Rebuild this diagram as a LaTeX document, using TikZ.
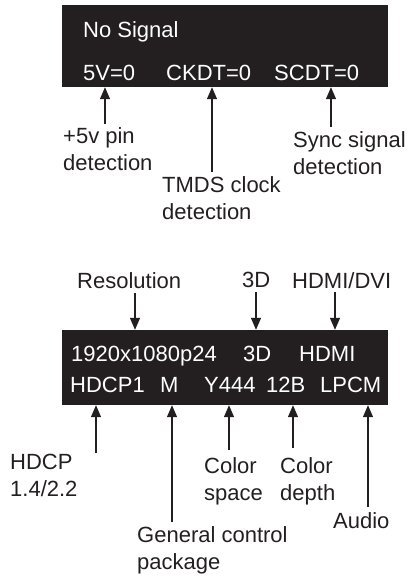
\documentclass[tikz,border=0pt]{standalone}
\usepackage{fontspec}
\setmainfont{Liberation Sans}
\usetikzlibrary{arrows.meta,positioning,calc}

\definecolor{panelblack}{HTML}{231F20}

\tikzset{
  panel/.style={fill=panelblack, draw=none, minimum width=326pt, inner sep=0pt},
  intext/.style={text=white, anchor=base west, inner sep=0pt, font=\fontsize{22}{27}\selectfont},
  lbl/.style={text=panelblack, anchor=north west, align=left, inner sep=0pt, font=\fontsize{22}{27}\selectfont},
  pointer/.style={-{Triangle[length=12pt,width=10pt]}, line width=1.3pt, draw=panelblack}
}

\begin{document}
\begin{tikzpicture}[x=1pt,y=-1pt]
\useasboundingbox (0,0) rectangle (409,576);
%Top panel
\node[panel, minimum height=82pt] (nosig) at (225,46) {};
\node[intext] (ns) at (83,37) {No Signal};
\node[intext] (v5) at (83,80) {5V=0};
\node[intext] (ckdt) at (166,80) {CKDT=0};
\node[intext] (scdt) at (274,80) {SCDT=0};

\node[lbl] (l5v) at (63,127) {+5v pin\\detection};
\node[lbl] (lclk) at (162,176) {TMDS clock\\detection};
\node[lbl] (lsync) at (293,131) {Sync signal\\detection};

\draw[pointer] ([yshift=3pt]105,0 |- l5v.north) -- (105,0 |- nosig.south);
\draw[pointer] ([yshift=4pt]212,0 |- lclk.north) -- (212,0 |- nosig.south);
\draw[pointer] ([yshift=4pt]331,0 |- lsync.north) -- (331,0 |- nosig.south);

%Bottom panel
\node[panel, minimum height=75pt] (info) at (225,367.5) {};
\node[intext] (res) at (71,361) {1920x1080p24};
\node[intext] (td) at (243,361) {3D};
\node[intext] (hdmi) at (299,361) {HDMI};
\node[intext] (hdcp) at (70,392) {HDCP1};
\node[intext] (gcp) at (160,392) {M};
\node[intext] (ycc) at (204,392) {Y444};
\node[intext] (bits) at (266,392) {12B};
\node[intext] (lpcm) at (320,392) {LPCM};

\node[lbl] (lres) at (77,272) {Resolution};
\node[lbl] (l3d) at (242,272) {3D};
\node[lbl] (lmode) at (292,272) {HDMI/DVI};

\draw[pointer] ([yshift=-4pt]135,0 |- lres.south) -- (135,0 |- info.north);
\draw[pointer] ([yshift=-4pt]256,0 |- l3d.south) -- (256,0 |- info.north);
\draw[pointer] ([yshift=-4pt]335,0 |- l3d.south) -- (335,-1 |- info.north);

\node[lbl] (lhdcp) at (10,454) {HDCP\\1.4/2.2};
\node[lbl] (lgcp) at (137,526) {General control\\package};
\node[lbl] (lspace) at (204,457) {Color\\space};
\node[lbl] (ldepth) at (280,457) {Color\\depth};
\node[lbl] (laudio) at (333,512) {Audio};

\draw[pointer] (96,453) -- (96,0 |- info.south);
\draw[pointer] ([yshift=4pt]172,0 |- lgcp.north) -- (172,0 |- info.south);
\draw[pointer] ([yshift=7pt]229,0 |- lspace.north) -- (229,0 |- info.south);
\draw[pointer] ([yshift=9pt]293,0 |- ldepth.north) -- (293,0 |- info.south);
\draw[pointer] ([yshift=5pt]368,0 |- laudio.north) -- (368,0 |- info.south);
\end{tikzpicture}
\end{document}
